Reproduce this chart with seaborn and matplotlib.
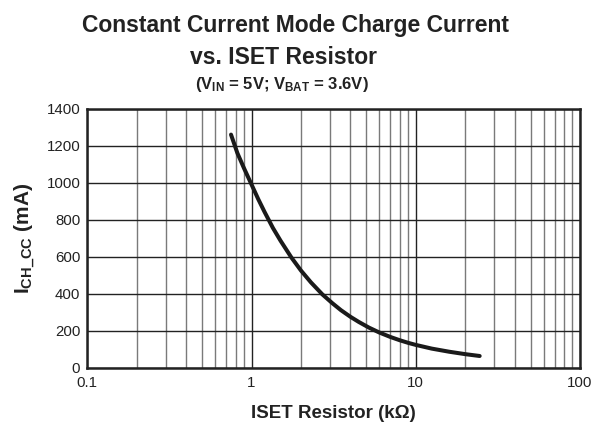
import matplotlib
matplotlib.use("Agg")
import matplotlib.pyplot as plt
from matplotlib import font_manager
from matplotlib.ticker import LogLocator, NullFormatter, FixedLocator, FuncFormatter
import seaborn as sns
import pandas as pd

# Charge current vs. ISET resistor
iset_kohm = [0.75, 0.82, 0.9, 1.0, 1.1, 1.2, 1.35, 1.5, 1.75, 2.0, 2.3, 2.7, 3.1, 3.5,
             4.0, 4.5, 5.2, 6.0, 7.0, 8.0, 9.0, 10.0, 12.5, 16.0, 20.0, 24.5]
ich_ma = [1260, 1160, 1078, 990, 910, 842, 755, 687, 595, 525, 461, 396, 349, 311,
          275, 247, 216, 190, 166, 148, 134, 123, 103, 86, 73, 63]

x_ticks = [0.1, 1, 10, 100]
y_ticks = [0, 200, 400, 600, 800, 1000, 1200, 1400]

sns.set_style("white")
plt.rcParams["font.family"] = ["Liberation Sans", "DejaVu Sans"]
plt.rcParams["mathtext.fontset"] = "custom"
plt.rcParams["mathtext.rm"] = "Liberation Sans"
plt.rcParams["mathtext.bf"] = "Liberation Sans:bold"
plt.rcParams["mathtext.it"] = "Liberation Sans:italic"

# Condensed face for the heading when available
names = {f.name for f in font_manager.fontManager.ttflist}
if "Liberation Sans Narrow" in names:
    title_font, title_size = "Liberation Sans Narrow", 19.2
else:
    title_font, title_size = "Liberation Sans", 16.5

df = pd.DataFrame({"R": iset_kohm, "I": ich_ma})

fig = plt.figure(figsize=(5.94, 4.30), dpi=100)
ax = fig.add_axes([0.147, 0.145, 0.8294, 0.6022])

sns.lineplot(data=df, x="R", y="I", ax=ax, color="#1a1a1a", linewidth=2.9, sort=False)

ax.set_xscale("log")
ax.set_xlim(0.1, 100)
ax.set_ylim(0, 1400)
ax.xaxis.set_major_locator(FixedLocator(x_ticks))
ax.xaxis.set_major_formatter(FuncFormatter(lambda v, p: f"{v:g}"))
ax.xaxis.set_minor_locator(LogLocator(base=10, subs=range(2, 10)))
ax.xaxis.set_minor_formatter(NullFormatter())
ax.set_yticks(y_ticks)

ax.grid(True, which="major", axis="both", color="#222222", linewidth=1.0)
ax.grid(True, which="minor", axis="x", color="#7a7a7a", linewidth=1.0)
ax.set_axisbelow(True)

for s in ax.spines.values():
    s.set_visible(True)
    s.set_color("#222222")
    s.set_linewidth(1.8)

ax.tick_params(axis="both", which="both", length=0, labelsize=10.8, colors="#222222")
ax.tick_params(axis="x", pad=6)
ax.tick_params(axis="y", pad=5)

ax.set_xlabel("ISET Resistor (k\u03a9)", fontsize=13.5, fontweight="bold", color="#222222", labelpad=11)
ax.set_ylabel(r"I$_{\mathbf{CH\_CC}}$ (mA)", fontsize=15, fontweight="bold", color="#222222", labelpad=7)

fig.text(0.497, 0.925, "Constant Current Mode Charge Current", ha="center", va="baseline",
         fontsize=title_size, fontweight="bold", color="#222222", family=title_font)
fig.text(0.478, 0.85, "vs. ISET Resistor", ha="center", va="baseline",
         fontsize=title_size, fontweight="bold", color="#222222", family=title_font)
fig.text(0.475, 0.793, r"(V$_{\mathbf{IN}}$ = 5V; V$_{\mathbf{BAT}}$ = 3.6V)", ha="center", va="baseline",
         fontsize=12, fontweight="bold", color="#222222")

fig.savefig("out.png", dpi=100, facecolor="white")
